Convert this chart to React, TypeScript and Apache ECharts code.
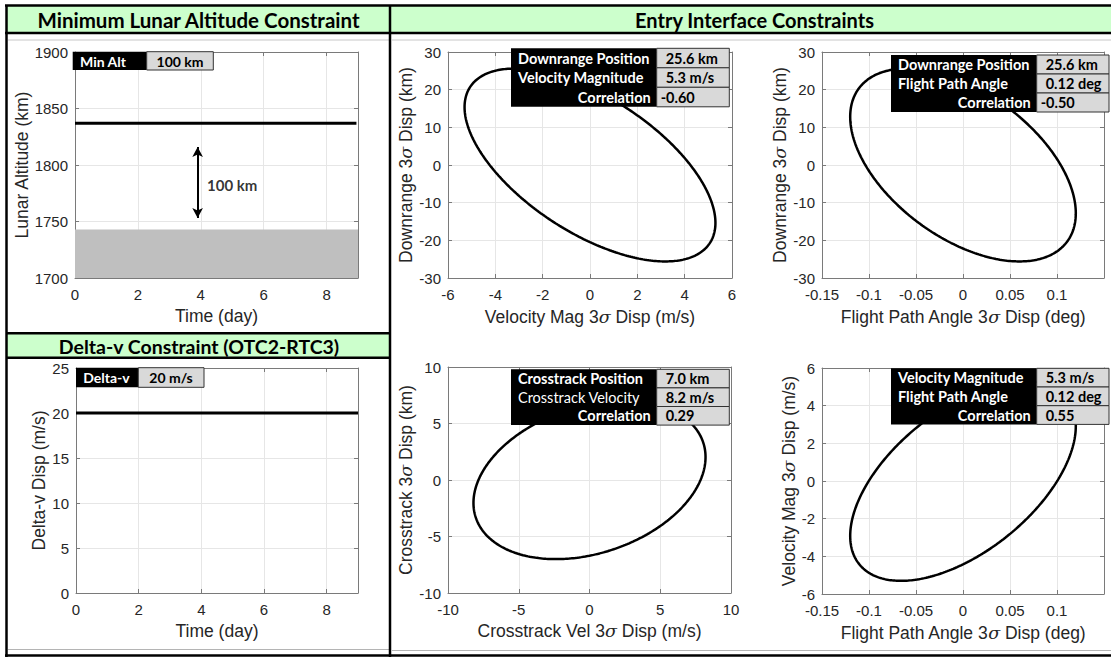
import React, { useEffect, useRef } from "react";
import * as echarts from "echarts";

// ---------------- Data ----------------
const altLimitTime = [0, 8.95];
const altLimitValue = [1837, 1837];
const altFloorTime = [0, 9];
const altFloorValue = [1700, 1743];
const altArrowX = [3.9, 3.9];
const altArrowY = [1753, 1816];
const altArrowLabel = "100 km";
const altArrowLabelAt = [4.2, 1782];
const altLegend = ["Min Alt", "100 km"];

const dvTime = [0, 9];
const dvValue = [20, 20];
const dvLegend = ["Delta-v", "20 m/s"];

const sigmaNames = [
  "Downrange Position",
  "Velocity Magnitude",
  "Flight Path Angle",
  "Crosstrack Position",
  "Crosstrack Velocity",
];
const sigmaValues = [25.6, 5.3, 0.12, 7.0, 8.2];
const sigmaDecimals = [1, 1, 2, 1, 1];
const sigmaUnits = ["km", "m/s", "deg", "km", "m/s"];
// ellipse plots: [x variable index, y variable index]
const ellipsePairs = [
  [1, 0],
  [2, 0],
  [4, 3],
  [2, 1],
];
const correlations = [-0.6, -0.5, 0.29, 0.55];
const tableBold = [
  [true, true],
  [true, true],
  [true, false],
  [true, true],
];

const panelTitles = [
  "Minimum Lunar Altitude Constraint",
  "Entry Interface Constraints",
  "Delta-v Constraint (OTC2-RTC3)",
];

// axis ranges [min, max, interval]
const xRanges = [
  [0, 9, 2],
  [0, 9, 2],
  [-6, 6, 2],
  [-0.15, 0.15, 0.05],
  [-10, 10, 5],
  [-0.15, 0.15, 0.05],
];
const yRanges = [
  [1700, 1900, 50],
  [0, 25, 5],
  [-30, 30, 10],
  [-30, 30, 10],
  [-10, 10, 5],
  [-6, 6, 2],
];
const xShowMax = [false, false, true, false, true, false];
const xNames = [
  "Time (day)",
  "Time (day)",
  "Velocity Mag 3{s|σ} Disp (m/s)",
  "Flight Path Angle 3{s|σ} Disp (deg)",
  "Crosstrack Vel 3{s|σ} Disp (m/s)",
  "Flight Path Angle 3{s|σ} Disp (deg)",
];
const yNames = [
  "Lunar Altitude (km)",
  "Delta-v Disp (m/s)",
  "Downrange 3{s|σ} Disp (km)",
  "Downrange 3{s|σ} Disp (km)",
  "Crosstrack 3{s|σ} Disp (km)",
  "Velocity Mag 3{s|σ} Disp (m/s)",
];

// ---------------- Layout ----------------
const grids = [
  { left: 75, top: 52, width: 283, height: 226 },
  { left: 76, top: 368, width: 282, height: 225 },
  { left: 448, top: 52, width: 284, height: 226 },
  { left: 822, top: 52, width: 282, height: 226 },
  { left: 448, top: 367, width: 283, height: 226 },
  { left: 822, top: 368, width: 282, height: 226 },
];
const yNameGaps = [42, 28, 32, 33, 32, 23];
const xNameGaps = [29, 29, 30, 30, 29, 30];
// tables: [left, split, right, top, rowHeight]
const tableBoxes = [
  [511, 656.7, 729.3, 48.3, 19.5],
  [891, 1036.7, 1109, 55, 19],
  [511, 656.7, 729.3, 369.3, 18.6],
  [891, 1036.7, 1109, 368.3, 18.7],
];

const AXIS_COLOR = "#7a7a7a";
const TEXT_COLOR = "#262626";
const GRID_COLOR = "#e6e6e6";
const SANS = "Liberation Sans";
const TITLE_FONT = "Lato";
const GREEN = "#ccffcc";
const NAME_SIZE = 17.5;
const TABLE_SIZE = 14.5;

function ellipse(sx: number, sy: number, rho: number, n = 360) {
  const pts: number[][] = [];
  const k = Math.sqrt(1 - rho * rho);
  for (let i = 0; i <= n; i++) {
    const t = (2 * Math.PI * i) / n;
    pts.push([sx * Math.cos(t), sy * (rho * Math.cos(t) + k * Math.sin(t))]);
  }
  return pts;
}

function nameStyle() {
  return {
    fontSize: NAME_SIZE,
    color: TEXT_COLOR,
    fontFamily: SANS,
    rich: {
      s: { fontSize: NAME_SIZE, color: TEXT_COLOR, fontFamily: "DejaVu Serif", fontStyle: "italic" },
    },
  };
}

const fmt = (v: number) => String(Math.round(v * 1e6) / 1e6);

function buildOption() {
  const xAxis: any[] = [];
  const yAxis: any[] = [];
  grids.forEach((_, g) => {
    const [xmin, xmax, xint] = xRanges[g];
    const [ymin, ymax, yint] = yRanges[g];
    const common = {
      type: "value",
      gridIndex: g,
      axisLine: { show: true, onZero: false, lineStyle: { color: AXIS_COLOR, width: 1 } },
      axisTick: { show: true, inside: true, length: 4, lineStyle: { color: AXIS_COLOR } },
    };
    xAxis.push({
      ...common,
      position: "bottom",
      min: xmin,
      max: xmax,
      interval: xint,
      name: xNames[g],
      nameLocation: "middle",
      nameGap: xNameGaps[g],
      nameTextStyle: nameStyle(),
      axisLabel: {
        color: TEXT_COLOR,
        fontSize: 15,
        fontFamily: SANS,
        margin: 9,
        formatter: fmt,
        showMaxLabel: xShowMax[g],
        showMinLabel: true,
      },
      splitLine: { show: true, lineStyle: { color: GRID_COLOR, width: 1 } },
    });
    xAxis.push({
      ...common,
      position: "top",
      min: xmin,
      max: xmax,
      interval: xint,
      axisLabel: { show: false },
      splitLine: { show: false },
    });
    yAxis.push({
      ...common,
      position: "left",
      min: ymin,
      max: ymax,
      interval: yint,
      name: yNames[g],
      nameLocation: "middle",
      nameGap: yNameGaps[g],
      nameRotate: 90,
      nameTextStyle: nameStyle(),
      axisLabel: {
        color: TEXT_COLOR,
        fontSize: 15,
        fontFamily: SANS,
        margin: 7,
        formatter: fmt,
        showMaxLabel: true,
        showMinLabel: true,
      },
      splitLine: { show: true, lineStyle: { color: GRID_COLOR, width: 1 } },
    });
    yAxis.push({
      ...common,
      position: "right",
      min: ymin,
      max: ymax,
      interval: yint,
      axisLabel: { show: false },
      splitLine: { show: false },
    });
  });

  const series: any[] = [];
  series.push({
    type: "line",
    xAxisIndex: 0,
    yAxisIndex: 0,
    data: altLimitTime.map((t, i) => [t, altLimitValue[i]]),
    showSymbol: false,
    lineStyle: { color: "#000", width: 3 },
    z: 3,
    markArea: {
      silent: true,
      itemStyle: { color: "#bfbfbf", opacity: 1 },
      data: [
        [
          { coord: [altFloorTime[0], altFloorValue[0]] },
          { coord: [altFloorTime[1], altFloorValue[1]] },
        ],
      ],
    },
    markLine: {
      silent: true,
      symbol: ["arrow", "arrow"],
      symbolSize: [8, 10],
      label: { show: false },
      lineStyle: { color: "#000", width: 2, type: "solid" },
      data: [
        [
          { coord: [altArrowX[0], altArrowY[0]] },
          { coord: [altArrowX[1], altArrowY[1]] },
        ],
      ],
    },
  });
  series.push({
    type: "scatter",
    xAxisIndex: 0,
    yAxisIndex: 0,
    data: [altArrowLabelAt],
    symbolSize: 0,
    label: {
      show: true,
      position: "right",
      distance: 0,
      formatter: altArrowLabel,
      color: "#000",
      fontSize: 15,
      fontWeight: "bold",
      fontFamily: TITLE_FONT,
    },
  });
  series.push({
    type: "line",
    xAxisIndex: 2,
    yAxisIndex: 2,
    data: dvTime.map((t, i) => [t, dvValue[i]]),
    showSymbol: false,
    lineStyle: { color: "#000", width: 3 },
  });
  ellipsePairs.forEach(([xi, yi], k) => {
    const g = k + 2;
    series.push({
      type: "line",
      xAxisIndex: g * 2,
      yAxisIndex: g * 2,
      data: ellipse(sigmaValues[xi], sigmaValues[yi], correlations[k]),
      showSymbol: false,
      smooth: false,
      lineStyle: { color: "#000", width: 2.5 },
    });
  });

  // ---------------- Graphics ----------------
  const gfx: any[] = [];
  const Z = 50;
  const line = (x1: number, y1: number, x2: number, y2: number, w: number, c = "#000") =>
    gfx.push({ type: "line", z: Z, shape: { x1, y1, x2, y2 }, style: { stroke: c, lineWidth: w } });
  const rect = (x: number, y: number, w: number, h: number, fill: string, stroke?: string, lw = 1) =>
    gfx.push({
      type: "rect",
      z: Z,
      shape: { x, y, width: w, height: h },
      style: { fill, stroke: stroke || null, lineWidth: stroke ? lw : 0 },
    });
  const text = (
    x: number,
    y: number,
    t: string,
    size: number,
    fill: string,
    align = "left",
    weight = "bold"
  ) =>
    gfx.push({
      type: "text",
      z: Z + 1,
      x,
      y,
      style: {
        text: t,
        fill,
        fontSize: size,
        fontWeight: weight,
        fontFamily: TITLE_FONT,
        align,
        verticalAlign: "middle",
      },
    });

  rect(6, 6, 1106, 27, GREEN);
  rect(7, 334, 383, 24, GREEN);
  text(198.5, 19.5, panelTitles[0], 20.5, "#000", "center");
  text(754.5, 19.5, panelTitles[1], 20, "#000", "center");
  text(199, 346, panelTitles[2], 19.5, "#000", "center");
  line(8, 40, 389, 40, 1, "#c8c8c8");
  line(392, 40, 1111, 40, 1, "#c8c8c8");
  line(8, 649.5, 389, 649.5, 1, "#b4b4b4");
  line(392, 650.5, 1111, 650.5, 1, "#b4b4b4");
  line(5, 5.5, 1111, 5.5, 2.5);
  line(5, 33, 1111, 33, 2.5);
  line(6.5, 5, 6.5, 657, 2.5);
  line(390, 5, 390, 657, 2.5);
  line(6, 333.3, 390, 333.3, 2.5);
  line(6, 357.8, 390, 357.8, 2.5);
  line(5, 655.5, 1111, 655.5, 2.5);

  rect(72.7, 51.7, 74, 18.3, "#000");
  rect(146.7, 51.7, 66.6, 18.3, "#d9d9d9", "#333", 1);
  text(80, 61, altLegend[0], 14, "#fff");
  text(180, 61, altLegend[1], 14, "#000", "center");
  rect(76, 367.7, 62.3, 19.6, "#000");
  rect(138.3, 367.7, 65.7, 19.6, "#d9d9d9", "#333", 1);
  text(83.3, 377.5, dvLegend[0], 14, "#fff");
  text(171, 377.5, dvLegend[1], 14, "#000", "center");

  ellipsePairs.forEach(([xi, yi], k) => {
    const [l, s, r, t, rh] = tableBoxes[k];
    rect(l, t, s - l, rh * 3, "#000");
    const rows = [yi, xi];
    for (let i = 0; i < 3; i++) {
      rect(s, t + rh * i, r - s, rh, "#d9d9d9", "#333", 1);
    }
    rows.forEach((vi, i) => {
      text(l + 7, t + rh * i + rh / 2, sigmaNames[vi], TABLE_SIZE, "#fff", "left", tableBold[k][i] ? "bold" : "normal");
      text(
        s + 9,
        t + rh * i + rh / 2,
        `${sigmaValues[vi].toFixed(sigmaDecimals[vi])} ${sigmaUnits[vi]}`,
        TABLE_SIZE,
        "#000"
      );
    });
    text(s - 6, t + rh * 2.5, "Correlation", TABLE_SIZE, "#fff", "right");
    const c = correlations[k];
    text(s + (c < 0 ? 4 : 9), t + rh * 2.5, c.toFixed(2), TABLE_SIZE, "#000");
  });

  return {
    animation: false,
    backgroundColor: "#fff",
    grid: grids.map((g) => ({ ...g, containLabel: false })),
    xAxis,
    yAxis,
    series,
    graphic: { elements: gfx },
  };
}

export default function App() {
  const ref = useRef<HTMLDivElement>(null);
  useEffect(() => {
    if (!ref.current) return;
    const chart = echarts.init(ref.current, undefined, { renderer: "svg" });
    chart.setOption(buildOption() as any);
    return () => chart.dispose();
  }, []);
  return (
    <div
      ref={ref}
      style={{ position: "fixed", left: 0, top: 0, width: 1111, height: 658, background: "#fff" }}
    />
  );
}
